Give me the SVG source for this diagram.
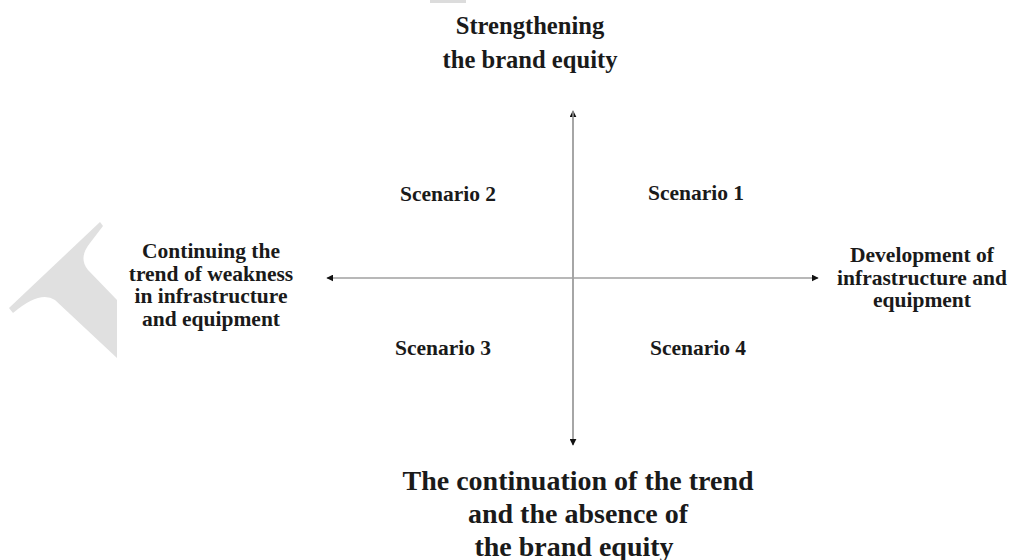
<svg xmlns="http://www.w3.org/2000/svg" width="1012" height="560" viewBox="0 0 1012 560">
<defs>
<style>
text{font-family:"Liberation Serif","Times New Roman",serif;font-weight:bold;fill:#1a1a1a;text-anchor:middle}
.t{font-size:28px}
.h{font-size:24.6px}
.l{font-size:21.5px}
.ax{stroke:#a0a0a0;stroke-width:1.5;fill:none}
</style>
<marker id="ah" viewBox="0 0 10 10" refX="9" refY="5" markerWidth="7" markerHeight="7" markerUnits="userSpaceOnUse" orient="auto-start-reverse">
<path d="M0,0 L10,5 L0,10 Z" fill="#111"/>
</marker>
</defs>
<rect width="1012" height="560" fill="#fff"/>
<rect x="430" y="0" width="36" height="3" fill="#dcdcdc"/>
<path d="M100,222 L9,308 L13,313 Q40,290 55,300 L117,358 L117,300 L88,270 Q78,258 90,243 L103,226 Z" fill="#e0e0e0"/>
<g id="connectors">
<line class="ax" x1="573" y1="445" x2="573" y2="111" marker-end="url(#ah)"/>
<line class="ax" x1="573" y1="111" x2="573" y2="445" marker-end="url(#ah)"/>
<line class="ax" x1="327" y1="278" x2="818" y2="278" marker-start="url(#ah)" marker-end="url(#ah)"/>
</g>
<g id="top">
<text class="h" x="530" y="34">Strengthening</text>
<text class="h" x="530" y="68">the brand equity</text>
</g>
<g id="bottom">
<text class="t" x="578" y="490">The continuation of the trend</text>
<text class="t" x="578" y="523">and the absence of</text>
<text class="t" x="574" y="556">the brand equity</text>
</g>
<g id="left">
<text class="l" x="211" y="258">Continuing the</text>
<text class="l" x="211" y="280.5">trend of weakness</text>
<text class="l" x="211" y="303">in infrastructure</text>
<text class="l" x="211" y="325.5">and equipment</text>
</g>
<g id="right">
<text class="l" x="922" y="262">Development of</text>
<text class="l" x="922" y="284.5">infrastructure and</text>
<text class="l" x="922" y="307">equipment</text>
</g>
<g id="scenario1"><text class="l" x="696" y="200">Scenario 1</text></g>
<g id="scenario2"><text class="l" x="448" y="201">Scenario 2</text></g>
<g id="scenario3"><text class="l" x="443" y="355">Scenario 3</text></g>
<g id="scenario4"><text class="l" x="698" y="355">Scenario 4</text></g>
</svg>
